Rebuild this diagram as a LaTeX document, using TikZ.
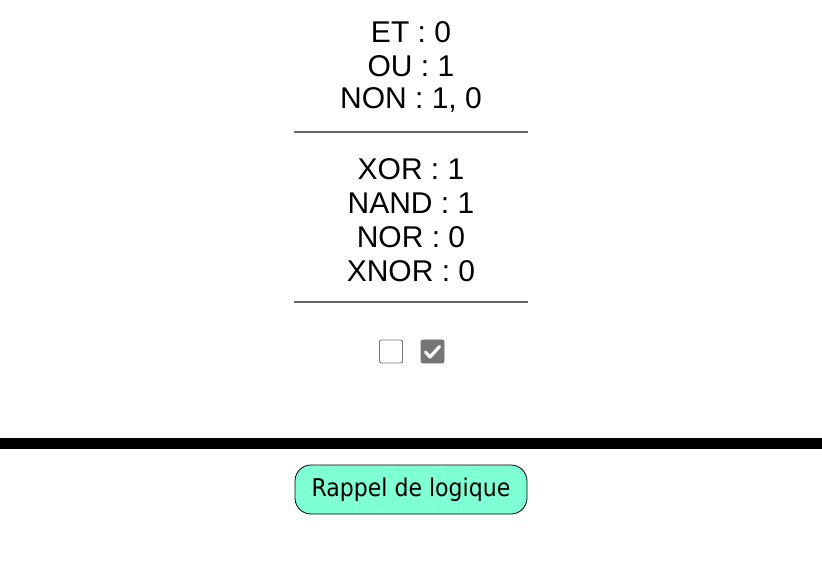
\documentclass[tikz,border=0pt]{standalone}
\usepackage{fontspec}
\usetikzlibrary{calc}
\setmainfont{Liberation Sans}
\newfontfamily\btnfont{DejaVu Sans Condensed}
\definecolor{aqua}{HTML}{7FFFD4}
\definecolor{boxgray}{HTML}{767676}
\tikzset{
  gate/.style={font=\fontsize{30}{34}\selectfont, inner sep=0pt, anchor=center},
  sep/.style={draw=black!60, line width=1.2pt},
  cbox/.style={draw=boxgray, line width=0.9pt, rounded corners=2pt},
}
\begin{document}
\begin{tikzpicture}[x=1pt,y=-1pt]
    \useasboundingbox (0,0) rectangle (822,569);
    % results of the first gates
    \node[gate](ET) at (411,32) {ET : 0};
    \node[gate](OU) at (411,66) {OU : 1};
    \node[gate](NON) at (411,100) {NON : 1, 0};
    \draw[sep](294,132)--(528,132);
    % derived gates
    \node[gate](XOR) at (411,169) {XOR : 1};
    \node[gate](NAND) at (411,203) {NAND : 1};
    \node[gate](NOR) at (411,237) {NOR : 0};
    \node[gate](XNOR) at (411,271) {XNOR : 0};
    \draw[sep](294,302)--(528,302);
    % the two inputs
    \coordinate(C0) at (391,351.5);
    \coordinate(C1) at (432.5,351.5);
    \draw[cbox,fill=white]($(C0)+(-11.5,-11.5)$) rectangle ($(C0)+(11.5,11.5)$);
    \draw[cbox,fill=boxgray]($(C1)+(-11.5,-11.5)$) rectangle ($(C1)+(11.5,11.5)$);
    \draw[white,line width=3.2pt,line cap=round,line join=round]
      ($(C1)+(-7,0.5)$)--($(C1)+(-2.5,5.5)$)--($(C1)+(7,-5)$);
    \fill(0,438) rectangle (822,449);
    \node[draw=black,fill=aqua,rounded corners=16pt,line width=0.8pt,
      minimum width=232pt,minimum height=49pt,inner sep=0pt,
      font=\btnfont\fontsize{24.5}{28}\selectfont](RAPPEL) at (411,489.5) {Rappel de logique};
\end{tikzpicture}
\end{document}
